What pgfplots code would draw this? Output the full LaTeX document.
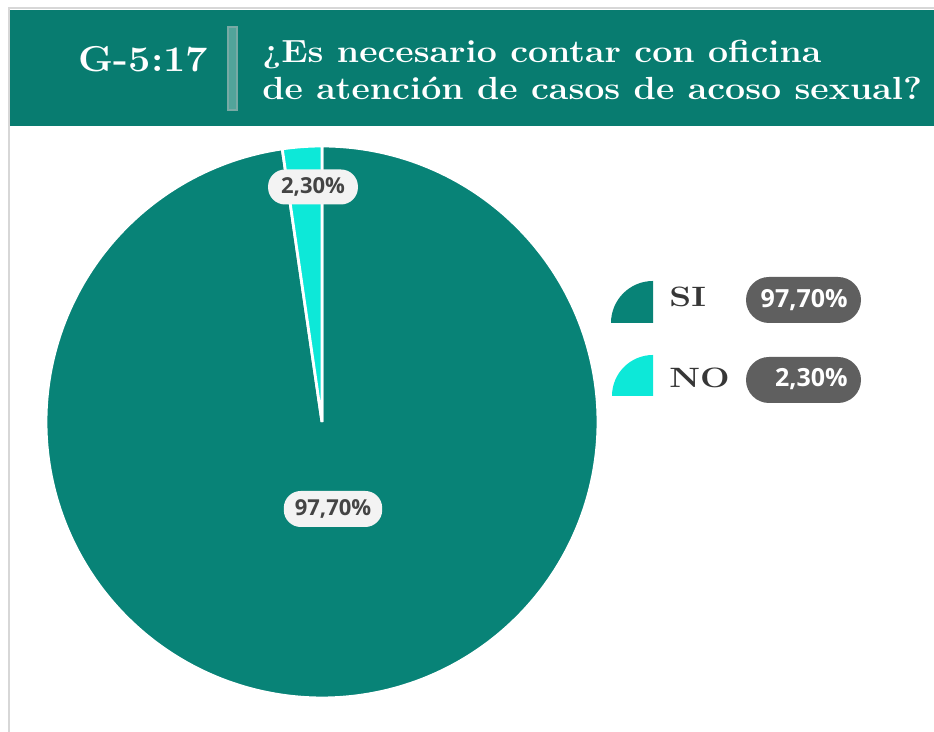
\documentclass[border=0pt]{standalone}
\usepackage{fontspec}
\usepackage{pgfplots}
\usepackage{pgfplotstable}
\pgfplotsset{compat=1.18}
\newfontfamily\osans{Open Sans}
\definecolor{hdr}{RGB}{8,124,112}
\definecolor{sicol}{RGB}{8,131,119}
\definecolor{nocol}{RGB}{13,232,216}
\definecolor{boxgray}{RGB}{243,243,243}
\definecolor{pillgray}{RGB}{95,95,95}
\definecolor{txtdark}{RGB}{68,68,68}
\definecolor{legtxt}{RGB}{55,55,55}
\definecolor{sepbar}{RGB}{82,164,154}
\definecolor{frame}{RGB}{215,215,215}
\pgfplotstableread[row sep=\\]{
label value \\
SI 97.7 \\
NO 2.3 \\
}\piedata
\begin{document}
\begin{tikzpicture}[x=0.5pt,y=0.5pt]
\pgfplotstablegetelem{1}{value}\of\piedata \let\noval\pgfplotsretval
\pgfmathsetmacro\noend{90+3.6*\noval}
\path[use as bounding box] (0,0) rectangle (934,732);
\fill[white] (0,0) rectangle (934,732);
\draw[frame, line width=1.2pt] (9,0) -- (9,724) -- (934,724);
\fill[hdr] (10,606) rectangle (934,722);
\fill[sepbar, draw={rgb,255:red,120;green,170;blue,165}, line width=0.6pt] (228,622) rectangle (237,705);
\node[anchor=base, text=white, font=\fontsize{18}{20}\selectfont\bfseries] at (143.5,660) {\scalebox{1.1}[1]{G-5:17}};
\node[anchor=base west, text=white, font=\fontsize{16}{18}\selectfont\bfseries, inner sep=0pt] at (262,669) {\scalebox{1.116}[1]{¿Es necesario contar con oficina}};
\node[anchor=base west, text=white, font=\fontsize{16}{18}\selectfont\bfseries, inner sep=0pt] at (262,632) {\scalebox{1.116}[1]{de atención de casos de acoso sexual?}};
\begin{axis}[x=0.5pt, y=0.5pt, xmin=0, xmax=934, ymin=0, ymax=732,
  at={(0,0)}, anchor=south west, hide axis, clip=false, scale only axis]
\addplot[fill=sicol, draw=white, line width=1.4pt, domain=\noend:450, samples=300, variable=\t]
  ({322+276*cos(\t)},{310+276*sin(\t)}) -- (axis cs:322,310) -- cycle;
\addplot[fill=nocol, draw=white, line width=1.4pt, domain=90:\noend, samples=30, variable=\t]
  ({322+276*cos(\t)},{310+276*sin(\t)}) -- (axis cs:322,310) -- cycle;
\node[fill=boxgray, rounded corners=8.5pt, minimum height=17.5pt, inner xsep=6.5pt, text=txtdark, font=\osans\bfseries\fontsize{11}{12}\selectfont] at (axis cs:313,545) {2,30\%};
\node[fill=boxgray, rounded corners=8.5pt, minimum height=18pt, inner xsep=5.5pt, text=txtdark, font=\osans\bfseries\fontsize{11}{12}\selectfont] at (axis cs:333,223) {97,70\%};
\end{axis}
% legend
\fill[sicol] (653,409) -- (653,451) arc[start angle=90, end angle=180, radius=42] -- cycle;
\fill[nocol] (653,336) -- (653,377) arc[start angle=90, end angle=180, radius=41] -- cycle;
\node[anchor=base west, inner sep=0pt, text=legtxt, font=\fontsize{14}{16}\selectfont\bfseries] at (669,425) {\scalebox{1.25}[1]{SI}};
\node[anchor=base west, inner sep=0pt, text=legtxt, font=\fontsize{14}{16}\selectfont\bfseries] at (669,344) {\scalebox{1.25}[1]{NO}};
\fill[pillgray, rounded corners=11.5pt] (746,409) rectangle (861,455);
\fill[pillgray, rounded corners=11.5pt] (746,329) rectangle (861,375);
\node[anchor=base east, inner sep=0pt, text=white, font=\osans\bfseries\fontsize{12.5}{14}\selectfont] at (848,424) {97,70\%};
\node[anchor=base east, inner sep=0pt, text=white, font=\osans\bfseries\fontsize{12.5}{14}\selectfont] at (848,345) {2,30\%};
\end{tikzpicture}
\end{document}
